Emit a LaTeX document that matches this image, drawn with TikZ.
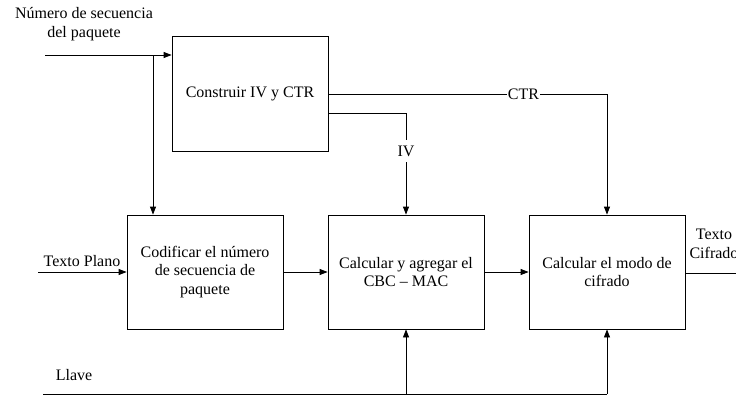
\documentclass[tikz,border=0pt]{standalone}
\usepackage{fontspec}
\setmainfont{Liberation Serif}
\usetikzlibrary{arrows.meta}
\begin{document}
\begin{tikzpicture}[x=1bp,y=-1bp,
  font=\fontsize{16bp}{18.5bp}\selectfont,
  line width=0.8bp,
  blk/.style={draw,minimum width=156bp,align=center,inner sep=0pt},
  arr/.style={-{Triangle[length=8bp,width=6bp]}},
  lbl/.style={inner sep=1bp,fill=white}]
\useasboundingbox (0,0) rectangle (736,396);

% processing blocks
\node[blk,minimum height=115bp] (iv)  at (250,93.5) {Construir IV y CTR};
\node[blk,minimum height=114bp] (cod) at (205,272) {Codificar el número\\de secuencia de\\paquete};
\node[blk,minimum height=114bp] (mac) at (406,272) {Calcular y agregar el\\CBC -- MAC};
\node[blk,minimum height=114bp] (enc) at (607,272) {Calcular el modo de\\cifrado};

% free ends and bends
\coordinate (seqin) at (45,55);
\coordinate (seqsplit) at (153,55);
\coordinate (ptin) at (38,272);
\coordinate (keyin) at (43,394);
\coordinate (out) at (736,273);

% labels
\node (seqlbl) at (84,24) [align=center] {Número de secuencia\\del paquete};
\node (ptlbl) at (82,261) {Texto Plano};
\node (keylbl) at (74,375) {Llave};
\node (outlbl) at (714,244) [align=center] {Texto\\Cifrado};

% packet sequence number
\draw[arr] (seqin) -- (seqin -| iv.west);
\draw[arr] (seqsplit) -- (seqsplit |- cod.north);

% CTR and IV outputs
\draw[arr] (iv.east |- 0,94) -- (enc.north |- 0,94) node[lbl,pos=0.7] (ctrlbl) {CTR} -- (enc.north);
\draw (iv.east |- 0,113) -- (mac.north |- 0,113) -- (mac.north |- 0,140);
\node[lbl] (ivlbl) at (mac.north |- 0,151) {IV};
\draw[arr] (mac.north |- 0,162) -- (mac.north);

% main data path
\draw[arr] (ptin) -- (cod.west);
\draw[arr] (cod.east) -- (mac.west);
\draw[arr] (mac.east) -- (enc.west);
\draw (enc.east |- out) -- (out);

% key distribution
\draw (keyin) -- (enc.south |- keyin);
\draw[arr] (mac.south |- keyin) -- (mac.south);
\draw[arr] (enc.south |- keyin) -- (enc.south);
\end{tikzpicture}
\end{document}
